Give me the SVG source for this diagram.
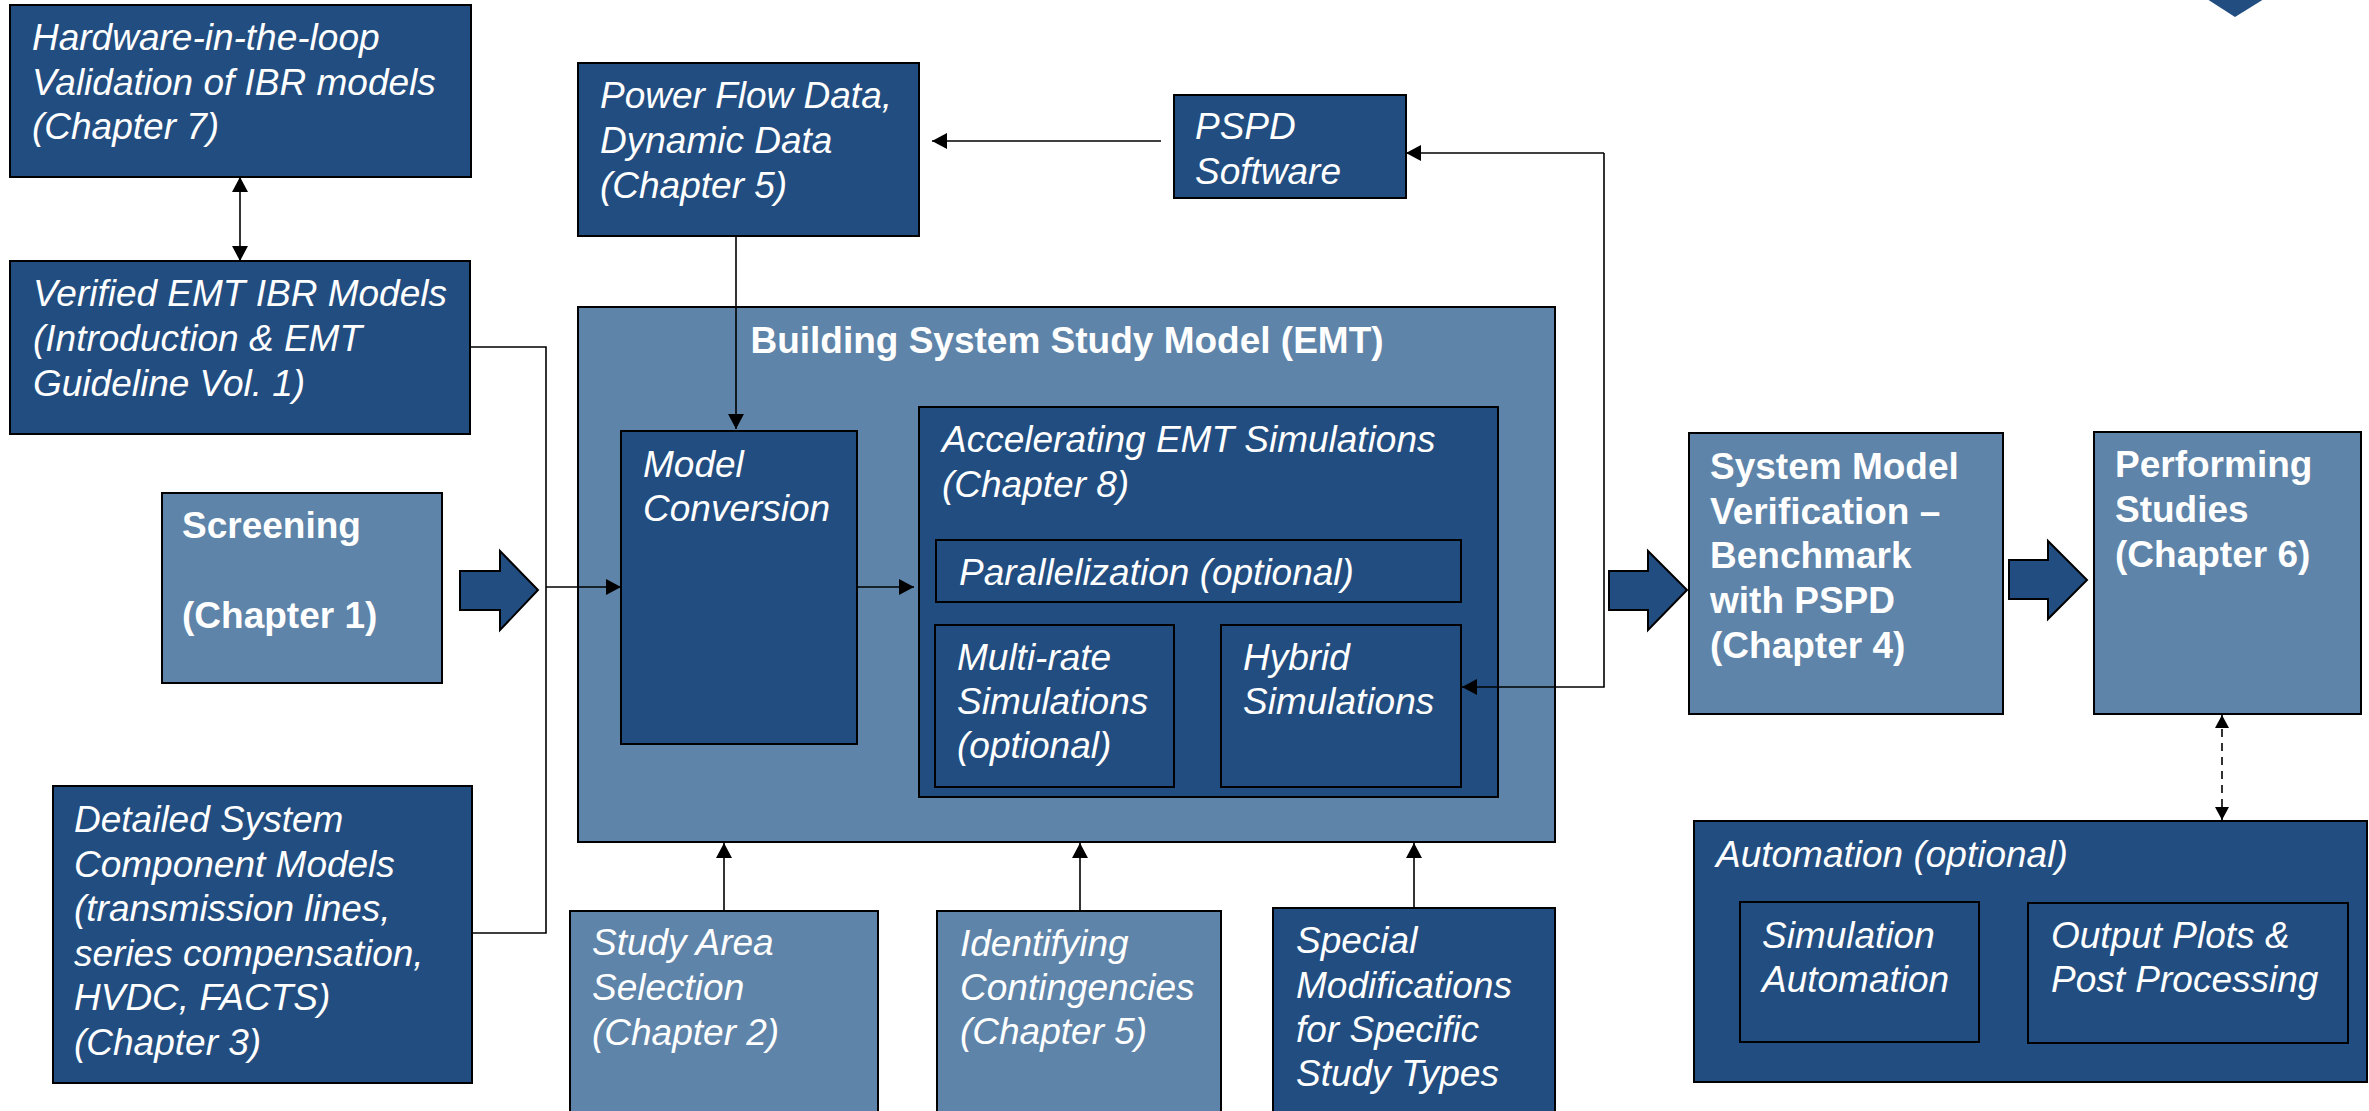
<svg xmlns="http://www.w3.org/2000/svg" width="2369" height="1111" viewBox="0 0 2369 1111">
<style>
.dk{fill:#224D80;stroke:#000;stroke-width:2}
.lt{fill:#5E84A9;stroke:#000;stroke-width:2}
text{font-family:"Liberation Sans",Arial,sans-serif;font-size:37px;fill:#fff}
.it{font-style:italic}
.bd{font-weight:bold}
.con{fill:none;stroke:#000;stroke-width:1.6}
.dash{stroke-dasharray:8 6}
.blk{fill:#224D80;stroke:#000;stroke-width:2}
</style>
<defs>
<marker id="ah" markerUnits="userSpaceOnUse" markerWidth="16" markerHeight="16" refX="15" refY="8" orient="auto-start-reverse" viewBox="0 0 16 16">
<path d="M0,0 L15,8 L0,16 z" fill="#000"/>
</marker>
<marker id="ahs" markerUnits="userSpaceOnUse" markerWidth="14" markerHeight="14" refX="13" refY="7" orient="auto-start-reverse" viewBox="0 0 14 14">
<path d="M0,0 L13,7 L0,14 z" fill="#000"/>
</marker>
</defs>
<rect x="0" y="0" width="2369" height="1111" fill="#fff"/>
<polygon points="2207,-1 2264,-1 2235,17" fill="#224D80"/>

<g id="hardware">
<rect class="dk" x="10" y="5" width="461" height="172"/>
<text class="it" x="32"><tspan x="32" y="50">Hardware-in-the-loop</tspan><tspan x="32" y="95">Validation of IBR models</tspan><tspan x="32" y="139">(Chapter 7)</tspan></text>
</g>
<g id="verified">
<rect class="dk" x="10" y="261" width="460" height="173"/>
<text class="it"><tspan x="33" y="306">Verified EMT IBR Models</tspan><tspan x="33" y="351">(Introduction &amp; EMT</tspan><tspan x="33" y="396">Guideline Vol. 1)</tspan></text>
</g>
<g id="powerflow">
<rect class="dk" x="578" y="63" width="341" height="173"/>
<text class="it"><tspan x="600" y="108">Power Flow Data,</tspan><tspan x="600" y="153">Dynamic Data</tspan><tspan x="600" y="198">(Chapter 5)</tspan></text>
</g>
<g id="pspd">
<rect class="dk" x="1174" y="95" width="232" height="103"/>
<text class="it"><tspan x="1195" y="139">PSPD</tspan><tspan x="1195" y="184">Software</tspan></text>
</g>
<g id="screening">
<rect class="lt" x="162" y="493" width="280" height="190"/>
<text class="bd"><tspan x="182" y="538">Screening</tspan><tspan x="182" y="628">(Chapter 1)</tspan></text>
</g>
<g id="detailed">
<rect class="dk" x="53" y="786" width="419" height="297"/>
<text class="it"><tspan x="74" y="832">Detailed System</tspan><tspan x="74" y="877">Component Models</tspan><tspan x="74" y="921">(transmission lines,</tspan><tspan x="74" y="966">series compensation,</tspan><tspan x="74" y="1010">HVDC, FACTS)</tspan><tspan x="74" y="1055">(Chapter 3)</tspan></text>
</g>
<g id="building">
<rect class="lt" x="578" y="307" width="977" height="535"/>
<text class="bd" x="1067" y="353" text-anchor="middle">Building System Study Model (EMT)</text>
</g>
<g id="modelconversion">
<rect class="dk" x="621" y="431" width="236" height="313"/>
<text class="it"><tspan x="643" y="477">Model</tspan><tspan x="643" y="521">Conversion</tspan></text>
</g>
<g id="accelerating">
<rect class="dk" x="919" y="407" width="579" height="390"/>
<text class="it"><tspan x="942" y="452">Accelerating EMT Simulations</tspan><tspan x="942" y="497">(Chapter 8)</tspan></text>
</g>
<g id="parallelization">
<rect class="dk" x="936" y="540" width="525" height="62"/>
<text class="it" x="959" y="585">Parallelization (optional)</text>
</g>
<g id="multirate">
<rect class="dk" x="935" y="625" width="239" height="162"/>
<text class="it"><tspan x="957" y="670">Multi-rate</tspan><tspan x="957" y="714">Simulations</tspan><tspan x="957" y="758">(optional)</tspan></text>
</g>
<g id="hybrid">
<rect class="dk" x="1221" y="625" width="240" height="162"/>
<text class="it"><tspan x="1243" y="670">Hybrid</tspan><tspan x="1243" y="714">Simulations</tspan></text>
</g>
<g id="studyarea">
<rect class="lt" x="570" y="911" width="308" height="215"/>
<text class="it"><tspan x="592" y="955">Study Area</tspan><tspan x="592" y="1000">Selection</tspan><tspan x="592" y="1045">(Chapter 2)</tspan></text>
</g>
<g id="contingencies">
<rect class="lt" x="937" y="911" width="284" height="215"/>
<text class="it"><tspan x="960" y="956">Identifying</tspan><tspan x="960" y="1000">Contingencies</tspan><tspan x="960" y="1044">(Chapter 5)</tspan></text>
</g>
<g id="special">
<rect class="dk" x="1273" y="908" width="282" height="218"/>
<text class="it"><tspan x="1296" y="953">Special</tspan><tspan x="1296" y="998">Modifications</tspan><tspan x="1296" y="1042">for Specific</tspan><tspan x="1296" y="1086">Study Types</tspan></text>
</g>
<g id="verification">
<rect class="lt" x="1689" y="433" width="314" height="281"/>
<text class="bd"><tspan x="1710" y="479">System Model</tspan><tspan x="1710" y="524">Verification –</tspan><tspan x="1710" y="568">Benchmark</tspan><tspan x="1710" y="613">with PSPD</tspan><tspan x="1710" y="658">(Chapter 4)</tspan></text>
</g>
<g id="performing">
<rect class="lt" x="2094" y="432" width="267" height="282"/>
<text class="bd"><tspan x="2115" y="477">Performing</tspan><tspan x="2115" y="522">Studies</tspan><tspan x="2115" y="567">(Chapter 6)</tspan></text>
</g>
<g id="automation">
<rect class="dk" x="1694" y="821" width="673" height="261"/>
<text class="it" x="1716" y="867">Automation (optional)</text>
</g>
<g id="simautomation">
<rect class="dk" x="1740" y="902" width="239" height="140"/>
<text class="it"><tspan x="1762" y="948">Simulation</tspan><tspan x="1762" y="992">Automation</tspan></text>
</g>
<g id="outputplots">
<rect class="dk" x="2028" y="903" width="320" height="140"/>
<text class="it"><tspan x="2051" y="948">Output Plots &amp;</tspan><tspan x="2051" y="992">Post Processing</tspan></text>
</g>

<g id="blockarrows">
<polygon class="blk" points="460,571 500,571 500,551 538,590 500,630 500,610 460,610"/>
<polygon class="blk" points="1609,571 1648,571 1648,551 1687,590 1648,630 1648,610 1609,610"/>
<polygon class="blk" points="2009,560 2048,560 2048,541 2087,580 2048,619 2048,599 2009,599"/>
</g>

<g id="connectors">
<line class="con" x1="240" y1="177" x2="240" y2="261" marker-start="url(#ah)" marker-end="url(#ah)"/>
<polyline class="con" points="470,347 546,347 546,933 472,933"/>
<line class="con" x1="546" y1="587" x2="621" y2="587" marker-end="url(#ah)"/>
<line class="con" x1="736" y1="236" x2="736" y2="429" marker-end="url(#ah)"/>
<line class="con" x1="1161" y1="141" x2="932" y2="141" marker-end="url(#ah)"/>
<polyline class="con" points="1604,153 1604,687 1462,687" marker-end="url(#ah)"/>
<line class="con" x1="1604" y1="153" x2="1406" y2="153" marker-end="url(#ah)"/>
<line class="con" x1="857" y1="587" x2="914" y2="587" marker-end="url(#ah)"/>
<line class="con" x1="724" y1="911" x2="724" y2="843" marker-end="url(#ah)"/>
<line class="con" x1="1080" y1="911" x2="1080" y2="843" marker-end="url(#ah)"/>
<line class="con" x1="1414" y1="908" x2="1414" y2="843" marker-end="url(#ah)"/>
<line class="con dash" x1="2222" y1="715" x2="2222" y2="820" marker-start="url(#ahs)" marker-end="url(#ahs)"/>
</g>
</svg>
